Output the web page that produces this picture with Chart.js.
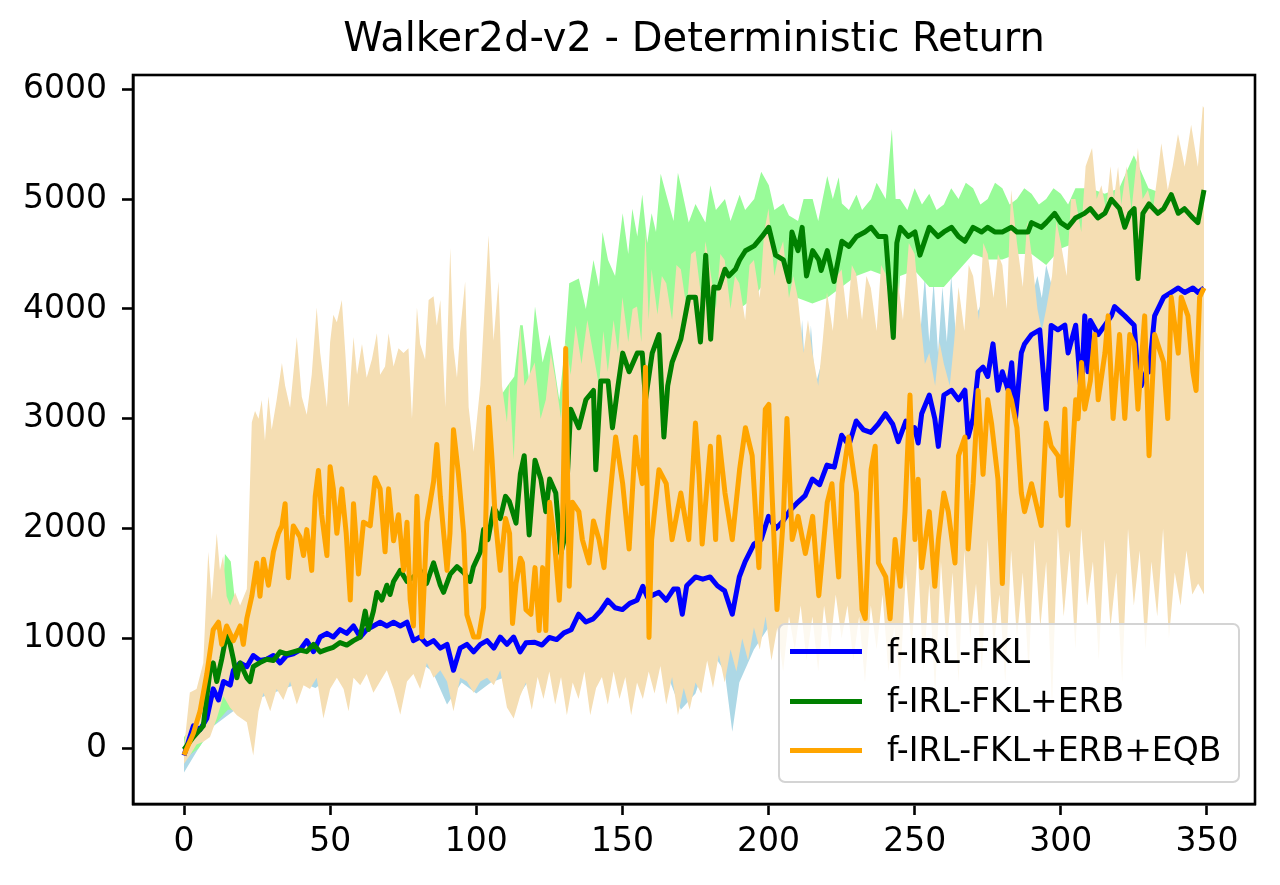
<!DOCTYPE html>
<html>
<head>
<meta charset="utf-8">
<script src="https://cdn.jsdelivr.net/npm/chart.js@4.4.1/dist/chart.umd.min.js"></script>
<style>
  html, body { margin: 0; padding: 0; background: #fff; }
  #wrap { position: relative; width: 1280px; height: 885px; overflow: hidden; }
  #c { position: absolute; left: 0; top: 0; }
  .lg-box { position: absolute; left: 778px; top: 623px; width: 462px; height: 160px; box-sizing: border-box;
            border: 2.5px solid #d4d4d4; border-radius: 7px; background: rgba(255,255,255,0.8); }
  .lg-line { position: absolute; left: 790px; width: 72px; height: 5px; }
  .lg-text { position: absolute; left: 887px; font-family: "DejaVu Sans", sans-serif; font-size: 33px;
             line-height: 40px; color: #000; white-space: nowrap; }
</style>
</head>
<body>
<div id="wrap">
  <canvas id="c" width="1280" height="885"></canvas>
  <div id="legend"></div>
</div>
<script>
// ---- data, [iteration, return] pairs ----
const title = "Walker2d-v2 - Deterministic Return";
const seriesNames = ["f-IRL-FKL", "f-IRL-FKL+ERB", "f-IRL-FKL+ERB+EQB"];
const xTicks = [0, 50, 100, 150, 200, 250, 300, 350];
const yTicks = [0, 1000, 2000, 3000, 4000, 5000, 6000];

const blueMean = [[0,-66],[3.2,204],[5.5,170],[7.8,271],[10,541],[11.8,440],[13.5,608],[15.8,575],[16.9,710],[19.2,777],
  [21.5,743],[23.7,845],[26,800],[28.3,811],[30.6,845],[32.9,777],[35.1,845],[37.4,861],[39.7,895],[42,980],[44.3,880],
  [46.6,1013],[48.9,1047],[51.1,1013],[53.4,1081],[55.7,1047],[58,1114],[60.3,1013],[62.5,1081],[64.8,1114],[67.1,1148],
  [69.4,1114],[71.7,1148],[74,1114],[76.3,1148],[78.5,980],[80.8,1013],[83.1,946],[85.4,980],[87.7,912],[90,946],[92.2,710],
  [94.5,912],[96.8,946],[99.1,878],[101.4,946],[103.7,980],[106,912],[108.2,1013],[110.5,946],[112.8,1013],[115,878],
  [117,960],[120,966],[122.5,940],[125,1009],[127.5,990],[130,1051],[132.5,1080],[135,1221],[137.5,1150],[140,1178],
  [142.5,1250],[145,1348],[147.5,1280],[150,1263],[152.5,1320],[155,1348],[157,1475],[158.5,1380],[160,1390],[162.5,1420],
  [165,1348],[167.5,1450],[169,1450],[170.5,1221],[172,1480],[175,1560],[177.5,1540],[180,1560],[182.5,1480],[185,1433],
  [187.6,1221],[190,1560],[192,1700],[195,1858],[197.5,1900],[200,2112],[202.5,2000],[205,2070],[207.5,2170],[210,2240],
  [212.5,2300],[215,2452],[217.5,2400],[220,2579],[222.5,2560],[225,2850],[227.5,2760],[230,2980],[232.5,2900],[235,2876],
  [237.5,2950],[240,3046],[242.5,2950],[244.4,2792],[247,2980],[248.5,2850],[250,2919],[251.2,2780],[252.4,3046],[255,3216],
  [256.9,3000],[258.1,2749],[260,3216],[262.6,3260],[265,3173],[267.2,3260],[268.3,2834],[270,3003],[271.7,3428],[273.4,3470],
  [275,3385],[276.8,3682],[278.5,3260],[280,3428],[282,3260],[283.2,3510],[284.5,3000],[286.5,3600],[287.6,3682],[290,3767],
  [292.8,3810],[295,3088],[296.7,3850],[299,3810],[301.4,3852],[302.5,3600],[305.1,3852],[307,3216],[308.2,3937],[309.3,3428],
  [310.1,3895],[312.8,3767],[315.1,3852],[317.3,3937],[318.4,4022],[320.1,3980],[321.9,3937],[325.1,3852],[326.4,3400],
  [327.5,3300],[329.5,3450],[330.2,3428],[332.1,3937],[335.2,4107],[337.8,4150],[340.2,4191],[342.4,4150],[345.2,4191],
  [347,4150],[349,4191]];
const blueUpper = [[0,0],[5,300],[10,650],[15,750],[20,850],[25,900],[30,950],[35,1000],[40,1050],[45,1100],[50,1150],
  [55,1200],[60,1200],[65,1250],[70,1300],[75,1300],[80,1200],[85,1150],[90,1100],[95,1150],[100,1100],[105,1150],
  [110,1200],[115,1150],[120,1200],[125,1250],[130,1300],[135,1450],[140,1450],[145,1650],[150,1600],[155,1700],
  [160,1800],[165,1700],[170,1900],[175,2000],[180,2000],[185,2000],[190,2100],[195,2400],[200,2600],[205,2700],
  [208,2900],[210,3300],[211.5,3900],[213,3200],[214.5,3850],[216,3300],[218,3500],[220,3400],[225,3400],[230,3500],
  [235,3500],[240,3600],[245,3300],[250,3600],[252,3800],[253.5,4300],[255,3700],[256.5,4250],[258,3600],[259.5,4200],
  [261,3700],[262.5,4300],[264,3800],[266,3900],[268,3600],[270,3900],[272,4000],[275,4200],[280,3900],[285,4100],
  [290,4100],[292,4300],[293.5,4100],[295,4400],[297,4200],[300,4300],[305,4200],[310,4200],[315,4150],[320,4250],
  [325,4150],[330,3900],[335,4300],[340,4350],[345,4350],[349,4300]];
const blueLower = [[0,-220],[5,0],[10,200],[15,300],[20,400],[25,450],[30,500],[35,550],[40,600],[45,550],[50,650],
  [55,700],[60,750],[65,800],[70,850],[75,900],[80,800],[85,700],[90,400],[95,600],[100,500],[105,600],[110,650],
  [115,500],[120,700],[125,750],[130,800],[135,850],[140,900],[145,900],[150,850],[155,900],[160,950],[165,700],
  [170,350],[175,500],[180,900],[185,700],[187.6,150],[190,600],[195,900],[200,1100],[205,1400],[210,1500],[215,1700],
  [220,1800],[225,2000],[230,2200],[235,2000],[240,2300],[245,2400],[250,2500],[255,2600],[260,2700],[265,2600],
  [270,2500],[275,2800],[280,2900],[285,2700],[290,3000],[295,2600],[300,3100],[305,3000],[310,3100],[315,3200],
  [320,3100],[325,2400],[330,2700],[335,3400],[340,3700],[345,3700],[349,3700]];

const greenMean = [[0,-10],[3.2,103],[6.6,204],[8.9,710],[10,777],[11.2,608],[12.9,811],[14.6,1047],[15.8,946],[16.9,811],
  [18.1,642],[19.2,777],[21.5,642],[22.6,608],[23.7,743],[26,780],[28.3,811],[30.6,800],[32.9,878],[35,860],[37.4,878],
  [39.7,895],[42,880],[44.3,946],[46.6,878],[48.9,900],[51.1,920],[53.4,963],[55.7,940],[58,980],[60.3,1013],[62,1249],
  [63.1,1081],[64.8,1249],[66,1418],[67.7,1350],[69.4,1485],[70.5,1400],[71.7,1519],[74,1620],[76.3,1519],[78.5,1560],
  [80.8,1620],[83,1500],[85.4,1688],[87.7,1485],[88.8,1420],[91.1,1586],[93.4,1654],[95.7,1600],[97.9,1519],[99,1650],
  [101.4,1789],[102.5,1991],[104,1900],[106,2193],[108.2,2092],[110,2294],[111.3,2250],[113.6,2050],[115.1,2500],
  [116.4,2664],[118.1,1943],[120.1,2622],[122.1,2452],[123.8,2155],[125.1,2452],[127.2,2324],[128.9,1773],[130.1,1900],
  [132.3,3088],[135.1,2919],[137.5,3173],[140.1,3258],[140.9,2536],[142.6,3343],[145.1,3343],[146.6,2919],[148.5,3300],
  [150.1,3598],[152.3,3428],[155.1,3598],[156.8,3598],[157.9,3173],[160.2,3598],[162.5,3767],[164.2,2834],[165.5,3300],
  [167,3513],[170,3725],[172.7,4107],[175,4107],[176.7,3700],[178.5,4490],[180.2,3725],[181.3,4200],[183,4191],[185.1,4362],
  [186.4,4300],[188.7,4362],[190.1,4446],[192.1,4530],[195.1,4574],[197.8,4660],[200.1,4743],[202.4,4490],[205.1,4446],
  [207,4250],[208,4700],[210.1,4531],[211.5,4743],[213,4300],[215.1,4531],[217.2,4446],[218,4350],[220.1,4531],[222.4,4250],
  [225.1,4616],[227.5,4570],[230.1,4659],[233,4700],[235.1,4743],[237.6,4659],[240.1,4659],[242.7,3740],[243.9,4600],
  [245.1,4743],[247.8,4660],[250.1,4701],[251.8,4490],[255,4743],[258,4659],[260,4701],[262.6,4743],[265,4659],[267.2,4616],
  [270,4743],[272.9,4701],[275,4743],[277.4,4701],[280,4701],[283.1,4743],[285,4701],[288.8,4701],[290,4786],[293.3,4743],
  [295,4786],[297.9,4870],[300,4786],[302.4,4743],[305,4828],[308.1,4870],[310.1,4913],[312.7,4828],[315.1,4871],
  [317.3,4998],[320.1,4913],[321.9,4744],[323.6,4871],[325.1,4913],[326.4,4277],[328.1,4871],[330.2,4956],[333.2,4871],
  [335.2,4913],[337.8,5040],[340.2,4871],[342.3,4913],[345.2,4828],[346.9,4786],[349,5083]];
const greenUpper = [[0,100],[2.5,200],[5,300],[7.5,350],[10,500],[12.5,1000],[14,1770],[16,1700],[18,1200],[20,1300],
  [22.5,1000],[25,1000],[30,1050],[35,1100],[40,1100],[45,1150],[50,1150],[55,1200],[60,1250],[65,1450],[70,1700],
  [75,1850],[80,1800],[85,1900],[90,2000],[95,2100],[98.7,2155],[101,2749],[103,2800],[106,3000],[108.5,3215],
  [110.7,3300],[113,3385],[115,3852],[115.9,3852],[118.1,3343],[120.1,4022],[122.7,3513],[125.1,3767],[128.4,3173],
  [130.1,3598],[131.8,4234],[135.1,4277],[137.5,4000],[140.1,4446],[142,4200],[143.2,4701],[145.1,4446],[147.5,4300],
  [150.1,4871],[152,4500],[153.4,4913],[155.1,4659],[156.8,5041],[158.5,4600],[160,4871],[161.5,4700],[163.1,5232],
  [165,5041],[167.5,4800],[169,5240],[170,5126],[172.7,4786],[175,4956],[178.4,4786],[180.1,5126],[182,4900],[185.1,5000],
  [187,4800],[190.1,5040],[192,4900],[195.1,5000],[197.5,5250],[200.1,5126],[202,4900],[205.1,4960],[207,4850],
  [210.1,4800],[212,5000],[215.1,5000],[217,4800],[220.1,5210],[222,5000],[224,5200],[225.1,4960],[227.5,4900],
  [230.1,5040],[232,4900],[235.1,5000],[237,5150],[240.1,5000],[242.2,5635],[243.5,5000],[245,5000],[247.5,4900],
  [250,5100],[252.5,4950],[255,5050],[257.5,4900],[260,4950],[262.5,5100],[265,5000],[267.5,5150],[270,5100],[272.5,4950],
  [275,5000],[277.5,5150],[280,5100],[282.5,4950],[285,5000],[287.5,5100],[290,5050],[292.5,4950],[295,5000],[297.5,5100],
  [300,5050],[302.5,4950],[305,5100],[310,5100],[315,5050],[320,5100],[325,5400],[330,5100],[335,5050],[340,5100],
  [345,5050],[349,5200]];
const greenLower = [[0,-100],[5,0],[10,200],[15,350],[20,350],[25,500],[30,550],[35,600],[40,650],[45,650],[50,700],
  [55,700],[60,750],[65,700],[70,900],[75,1000],[80,1100],[85,1200],[90,1200],[95,1100],[100,1300],[105,1400],[110,1600],
  [115,1700],[120,1900],[125,1900],[128.9,1300],[132,1800],[135,2200],[140,2300],[145,2600],[150,2700],[155,2800],
  [160,2900],[164.2,2400],[170,3200],[175,3500],[180,3300],[185,3900],[190,4000],[195,4100],[200,4300],[205,4000],
  [210,4100],[215,4050],[220,4100],[225,4200],[230,4300],[235,4350],[240,4300],[242.7,3300],[245,4300],[250,4350],
  [255,4200],[260,4200],[265,4350],[270,4500],[275,4450],[280,4450],[285,4500],[290,4500],[295,4400],[300,4550],
  [305,4600],[310,4600],[315,4650],[320,4600],[326.4,4100],[330,4650],[335,4650],[340,4600],[345,4650],[349,4800]];

const orangeMean = [[0,-60],[3.2,136],[5.5,339],[7.8,676],[10,1080],[11.8,1148],[12.9,946],[14.6,1114],[16.9,980],
  [19.2,1114],[20.3,946],[21.5,1182],[23.2,1384],[24.9,1688],[26,1384],[27.2,1721],[28.9,1485],[30.6,1789],[32.3,1957],
  [33.5,2025],[34.6,2227],[35.7,1553],[37.4,2025],[39.7,1924],[40.9,1755],[42,1991],[43.7,1620],[44.9,2294],[46,2530],
  [47.1,2126],[48.9,1755],[50,2564],[51.1,2362],[52.3,1957],[54,2362],[55.5,1957],[56.9,1350],[58,2227],[59.7,1586],
  [61.4,2059],[63.7,2025],[65.4,2463],[67.1,2362],[68.8,1789],[70,2362],[71.7,1890],[73.4,2126],[75.1,1620],[76.3,2059],
  [77.4,1350],[78.5,1114],[79.7,2294],[81.4,1013],[83.1,2059],[85.4,2429],[86.5,2767],[87.7,2294],[90,1620],[91,1957],
  [92.2,2901],[93.9,2497],[95.7,1957],[96.8,1215],[99.1,1013],[100.8,1013],[102.5,1283],[104.2,3104],[105.4,2631],
  [106.5,2092],[108.2,1620],[110,2092],[111.4,1957],[112.4,1136],[113.6,1500],[115.1,1730],[115.8,1690],[117,1263],
  [118.7,1220],[120.1,1645],[121.5,1072],[122.7,1645],[123.8,1072],[125.1,2240],[126.7,1900],[128.4,1348],[129.5,1985],
  [130.6,3640],[131.8,1475],[132.9,2240],[135.1,2155],[136.3,1900],[138.6,1688],[140.1,2070],[142,1900],[143.7,1645],
  [145.1,2112],[147.7,2834],[150.1,2409],[152.3,1815],[154.5,2834],[155.1,2664],[156.8,2410],[157.9,3470],[159.1,1009],
  [160,1900],[162.5,2537],[165,2409],[167,1900],[170,2324],[172.7,1900],[175,2961],[176.2,2494],[177.3,1860],[180.1,2749],
  [181.9,1900],[183,2834],[185.1,2324],[187.6,1900],[190.1,2537],[192.1,2919],[194.4,2664],[196.7,1645],[198.9,3088],
  [200.1,3131],[201.2,2324],[202.9,1263],[205.1,2112],[206.3,3003],[208.1,1900],[210.1,2112],[212.6,1773],[215.1,2112],
  [217.2,1390],[220.1,2240],[221.7,2409],[224,1560],[225.1,2409],[227.4,2834],[230.1,2324],[232,1263],[233.1,1180],
  [235.1,2537],[236.5,2750],[237.6,1688],[240.1,1560],[241.6,1180],[243.3,1900],[245.1,1475],[246.7,2155],[248.4,3216],
  [250.1,1900],[251.2,2450],[252.4,1645],[255,2155],[256.9,1475],[258.1,1900],[260,2324],[261.5,2155],[263.8,1688],
  [265,2664],[267.2,2834],[268.3,1815],[270,2409],[271.7,3258],[273.4,2494],[275,3173],[276.3,2961],[278.5,2450],
  [280,1500],[282,3258],[283.1,3173],[285,2919],[286.5,2324],[287.6,2155],[290,2409],[293.3,2028],[295,2961],[296.7,2750],
  [299.1,2660],[300.1,2300],[301.4,3090],[302.5,2030],[305.1,3173],[305.9,3000],[307.1,3513],[308.2,3088],[310.1,3343],
  [311.6,3767],[312.8,3173],[315.1,3598],[316.2,3937],[317.9,3003],[320.1,3767],[321.9,3003],[323.6,3767],[325.1,3683],
  [326.4,3088],[328.7,3937],[330.2,2664],[332.1,3767],[335.2,3513],[336.6,3003],[337.8,4107],[340.2,3598],[341.2,4107],
  [343.5,3937],[345.2,3428],[346.3,3258],[347.5,4107],[349,4191]];
const orangeUpper = [[0,0],[2,507],[4.3,541],[6.6,777],[8.3,1789],[9.5,1350],[11.2,1957],[12.3,1620],[13.4,1750],
  [14.6,1384],[15.8,1300],[17.5,1418],[19.2,1300],[21.5,1451],[23.2,2969],[24.3,3070],[25.5,3000],[26.6,3171],[27.7,2800],
  [28.9,3205],[30,2900],[31.7,3171],[33.5,3508],[34.6,3300],[36.3,3100],[38.6,3744],[40.3,3200],[42,3036],[43.7,3400],
  [45.4,4014],[46.6,3600],[48.9,3104],[50,3700],[51.1,3947],[52.3,3880],[54,4082],[55.2,3600],[56.3,3104],[58,3744],
  [59.2,3400],[60.9,3680],[62.5,3374],[64.3,3542],[66,3778],[67.1,3400],[68.8,3475],[70,3778],[71.7,3475],[73.4,3643],
  [75.1,3600],[76.8,3643],[78,3003],[79.7,4014],[80.8,3680],[82.5,3540],[83.7,4082],[85.4,4115],[86.5,3850],[87.7,4082],
  [89.4,3104],[91.1,4554],[92.2,3650],[93.4,3374],[94.5,3800],[96.2,4250],[97.4,3104],[99.1,2699],[101.4,3306],
  [104.2,4672],[105.9,3711],[107.6,4250],[108.8,3300],[110.5,2969],[111.3,3343],[112.8,2632],[115,3852],[116.5,3300],
  [118,3385],[120,3513],[122,3000],[123.8,3173],[125.5,3600],[127.2,3343],[129,3000],[130.6,3700],[132.3,3400],[134,3852],
  [136,3500],[138,3900],[140,3598],[142,3300],[143.5,3800],[145,3428],[147,3900],[148.5,3600],[150,4107],[152,3700],
  [153.5,4000],[155,4022],[156.5,3700],[157.9,4701],[159,3900],[160,4362],[162,3950],[163.5,4300],[165,4234],[167,3900],
  [168.5,4400],[170,4362],[172,4000],[173.5,4500],[175,4531],[177,4100],[178.4,4616],[180,4362],[182,4000],[183.5,4500],
  [185,4446],[187,4000],[188.5,4300],[190,4234],[192,3900],[193.5,4400],[195,4446],[197,4100],[198.5,4700],[200,4914],
  [202,4300],[203.5,4500],[205,4616],[207,4100],[208.5,4300],[210,4107],[212,3600],[213.5,3900],[215,3600],[217,3300],
  [218.5,3700],[220,4150],[222,3800],[223.5,4300],[225,4362],[227,3900],[228.5,4400],[230,4320],[232,3900],[233.5,4300],
  [235,4190],[237,3800],[238.5,4400],[240,4320],[242,3937],[244,4300],[246,3900],[248,4600],[250,4500],[252,3900],
  [253.5,3500],[255,3600],[257,3300],[258.5,3700],[260,3500],[262,3300],[263.5,3700],[265,4200],[267,3800],[268.5,4400],
  [270,4300],[272,3900],[273.5,4600],[275,4500],[277,4100],[278.5,4500],[280,4400],[281.5,4000],[283,5083],[285,4600],
  [287,4200],[288.5,4800],[290,4500],[292,4000],[293.5,3800],[295,4000],[297,4300],[298.5,4800],[300,4600],[302,4300],
  [303.5,5000],[305,5000],[307,4700],[308.5,5300],[310.7,5465],[312.3,5000],[313.9,5126],[315.5,4900],[317,5300],
  [318.2,5000],[319.6,5295],[320.7,4950],[322.5,5300],[324.2,4900],[326.4,5465],[328,5000],[329.8,5083],[331.5,4900],
  [333,5200],[334.4,5508],[336.6,5083],[338.3,5300],[340.1,5592],[342.4,5295],[344.6,5677],[346.9,5295],[348.6,5847],
  [349,5830]];
const orangeLower = [[0,-140],[2,-66],[4.3,35],[6.6,60],[8.9,103],[11.2,271],[13.5,474],[15.8,370],[18.1,300],[21.5,238],
  [23.7,-66],[25.5,338],[27.2,505],[29.5,338],[31.7,541],[34,440],[36.3,608],[38.6,400],[40.9,575],[43.1,541],[45.4,642],
  [47.7,271],[50,541],[52.3,642],[54.6,541],[56.3,338],[58,642],[60.3,575],[62.5,676],[64.8,505],[67.1,608],[69.4,710],
  [71.7,541],[74,305],[76.3,608],[78.5,676],[80.8,541],[83.1,777],[85.4,642],[87.7,710],[90,608],[92.2,338],[94.5,642],
  [96.8,608],[99.1,505],[101.4,608],[103.7,642],[106,575],[108.2,710],[110.5,372],[112.8,271],[115,474],[117,600],[119,350],
  [121,650],[123,450],[125,700],[127,400],[129,650],[131,300],[133,600],[135,450],[137,700],[139,300],[141,550],[143,650],
  [145,400],[147,700],[149,450],[151,650],[153,300],[155,600],[157,450],[159,700],[161,500],[163,750],[165,400],[167,650],
  [169,300],[171,550],[173,350],[175,600],[177,500],[179,800],[181,550],[183,850],[185,600],[187,900],[189,700],[191,1000],
  [193,800],[195,1100],[197,900],[199,1200],[201,800],[203,1100],[205,700],[207,1200],[209,900],[211,1300],[213,800],
  [215,1200],[217,700],[219,1300],[221,900],[223,1400],[225,1000],[227,1300],[229,800],[231,1200],[233,600],[235,1300],
  [237,900],[239,1400],[241,700],[243,1100],[245,600],[247,1600],[249,900],[251,1800],[253,700],[255,1500],[257,500],
  [259,1700],[261,900],[263,1600],[265,600],[267,1800],[269,1000],[271,1500],[273,700],[275,1900],[277,900],[279,1400],
  [281,600],[283,1800],[285,1000],[287,1600],[289,700],[291,1900],[293,1100],[295,1700],[297,400],[299,2000],[301,1200],
  [303,1800],[305,900],[307,2000],[309,1300],[311,1700],[313,800],[315,1900],[317,1100],[319,1600],[321,600],[323,2000],
  [325,1300],[327,1800],[329,900],[331,1700],[333,1200],[335,2000],[337,1000],[339,1600],[341,1300],[343,1800],[345,1400],
  [347,1500],[349,1400]];

// ---- styles ----
const lineColors = ["#0000ff", "#008000", "#ffa500"];
const bandColors = ["#add8e6", "#98fb98", "#f5deb3"];
const FONT = "DejaVu Sans";

const pts = arr => arr.map(p => ({ x: p[0], y: p[1] }));

function lineDs(label, arr, color, order) {
  return { label, data: pts(arr), borderColor: color, backgroundColor: color, borderWidth: 5,
           pointRadius: 0, fill: false, tension: 0, borderJoinStyle: 'round', borderCapStyle: 'butt', order };
}
function bandEdge(arr, fillTarget, color, order) {
  return { label: '', data: pts(arr), borderWidth: 0, borderColor: 'rgba(0,0,0,0)', pointRadius: 0,
           tension: 0, fill: fillTarget === null ? false : fillTarget, backgroundColor: color, order };
}

const datasets = [
  lineDs(seriesNames[2], orangeMean, lineColors[2], 0),   // 0
  lineDs(seriesNames[1], greenMean, lineColors[1], 1),    // 1
  lineDs(seriesNames[0], blueMean, lineColors[0], 2),     // 2
  bandEdge(orangeUpper, 4, bandColors[2], 3),             // 3
  bandEdge(orangeLower, null, bandColors[2], 4),          // 4
  bandEdge(greenUpper, 6, bandColors[1], 5),              // 5
  bandEdge(greenLower, null, bandColors[1], 6),           // 6
  bandEdge(blueUpper, 8, bandColors[0], 7),               // 7
  bandEdge(blueLower, null, bandColors[0], 8)             // 8
];

const frame = {
  id: 'frame',
  afterDraw(chart) {
    const a = chart.chartArea, ctx = chart.ctx;
    ctx.save();
    ctx.strokeStyle = '#000';
    ctx.lineWidth = 2.6;
    ctx.strokeRect(a.left, a.top, a.right - a.left, a.bottom - a.top);
    ctx.restore();
  }
};

const tickFont = { family: FONT, size: 33 };

new Chart(document.getElementById('c'), {
  type: 'line',
  data: { datasets },
  options: {
    responsive: false,
    animation: false,
    devicePixelRatio: 1,
    layout: { padding: { left: 0, right: 25, top: 0, bottom: 0 } },
    plugins: {
      legend: { display: false },
      tooltip: { enabled: false },
      filler: { drawTime: 'beforeDatasetDraw' },
      title: { display: true, text: title, fullSize: false, color: '#000',
               font: { family: FONT, size: 40, weight: 'normal' }, padding: { top: 17, bottom: 10 } }
    },
    scales: {
      x: {
        type: 'linear', min: -17.45, max: 366.45,
        afterBuildTicks: s => { s.ticks = xTicks.map(v => ({ value: v })); },
        afterFit: s => { s.height = 81; },
        ticks: { font: tickFont, color: '#000', padding: 8, maxRotation: 0, callback: v => String(v) },
        grid: { drawOnChartArea: false, drawTicks: true, tickLength: 11, tickColor: '#000', tickWidth: 2.6 },
        border: { display: true, color: '#000', width: 2.6 }
      },
      y: {
        type: 'linear', min: -507, max: 6130,
        afterBuildTicks: s => { s.ticks = yTicks.map(v => ({ value: v })); },
        afterFit: s => { s.width = 133; },
        ticks: { font: tickFont, color: '#000', padding: 15, callback: v => String(v) },
        grid: { drawOnChartArea: false, drawTicks: true, tickLength: 11, tickColor: '#000', tickWidth: 2.6 },
        border: { display: true, color: '#000', width: 2.6 }
      }
    }
  },
  plugins: [frame]
});

// ---- legend (HTML text) ----
const legend = document.getElementById('legend');
const box = document.createElement('div');
box.className = 'lg-box';
legend.appendChild(box);
const rowY = [651.5, 701, 750];
[0, 1, 2].forEach((k, r) => {
  const ln = document.createElement('div');
  ln.className = 'lg-line';
  ln.style.top = (rowY[r] - 2.5) + 'px';
  ln.style.background = lineColors[k];
  legend.appendChild(ln);
  const tx = document.createElement('div');
  tx.className = 'lg-text';
  tx.style.top = (rowY[r] - 20) + 'px';
  tx.textContent = seriesNames[k];
  legend.appendChild(tx);
});
</script>
</body>
</html>
